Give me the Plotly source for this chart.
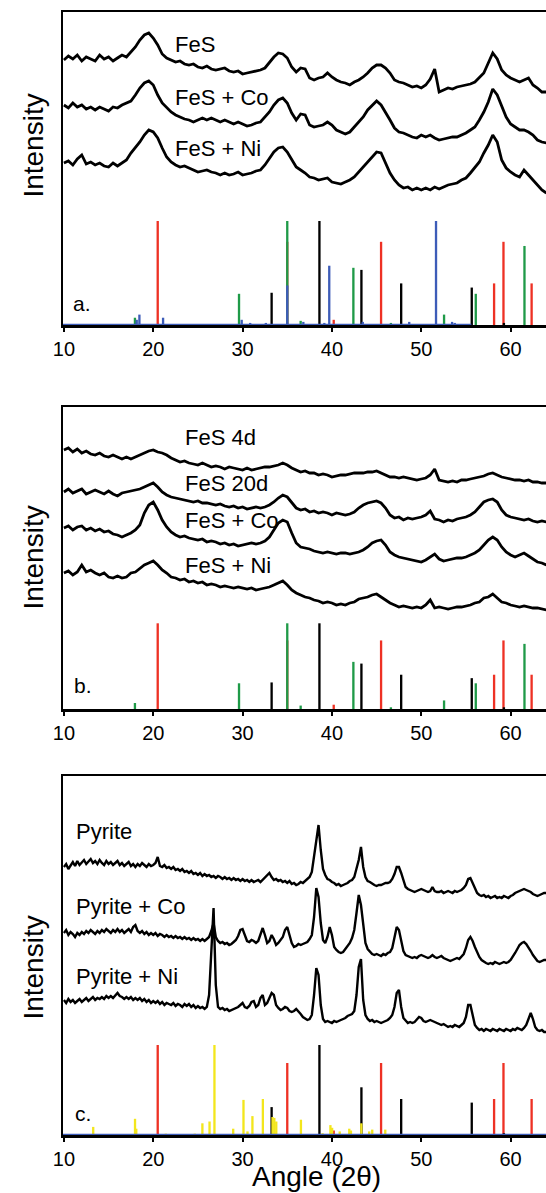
import plotly.graph_objects as go

# ---------------- data ----------------
SCAN_START = 10.0      # deg 2theta
STEP_AB = 0.5          # scan step used for panels a, b
STEP_C = 0.25          # scan step used for panel c

# panel a
FES_A = [265, 269, 266, 270, 264, 268, 266, 264, 270, 266,
         268, 264, 267, 270, 268, 273, 278, 285, 290, 292,
         287, 280, 271, 267, 265, 263, 264, 261, 260, 261,
         258, 257, 259, 256, 255, 256, 257, 254, 253, 254,
         251, 252, 253, 254, 255, 257, 263, 268, 272, 271,
         267, 258, 253, 257, 256, 247, 245, 247, 248, 252,
         248, 245, 243, 242, 240, 243, 245, 248, 252, 257,
         260, 260, 257, 252, 245, 243, 242, 240, 238, 239,
         237, 240, 246, 256, 233, 235, 237, 236, 238, 239,
         240, 241, 243, 247, 252, 262, 272, 266, 255, 250,
         247, 245, 243, 245, 247, 240, 237, 233, 233]
FES_CO_A = [220, 217, 222, 218, 220, 216, 218, 215, 218, 216,
            214, 218, 217, 220, 222, 224, 230, 237, 242, 244,
            240, 230, 222, 217, 213, 210, 208, 206, 205, 203,
            205, 207, 205, 207, 205, 203, 205, 203, 201, 203,
            201, 199, 200, 202, 203, 208, 213, 220, 225, 227,
            222, 212, 205, 211, 210, 200, 198, 199, 200, 203,
            200, 195, 193, 191, 193, 198, 203, 208, 215, 220,
            224, 220, 213, 205, 197, 193, 192, 190, 188, 187,
            190, 188, 190, 187, 185, 186, 187, 188, 188, 190,
            192, 195, 198, 205, 213, 223, 236, 230, 218, 208,
            201, 198, 195, 195, 193, 190, 185, 183, 182]
FES_NI_A = [162, 164, 160, 166, 170, 161, 163, 160, 162, 159,
            158, 162, 159, 162, 165, 172, 177, 183, 190, 195,
            193, 187, 177, 168, 163, 160, 158, 159, 157, 155,
            153, 154, 155, 153, 152, 150, 152, 150, 151, 153,
            150, 151, 152, 154, 155, 160, 167, 173, 177, 178,
            173, 165, 158, 155, 152, 148, 147, 145, 146, 147,
            143, 142, 141, 143, 145, 148, 153, 158, 163, 168,
            173, 172, 162, 152, 145, 140, 137, 138, 135, 137,
            135, 137, 135, 138, 136, 138, 140, 141, 142, 145,
            147, 152, 157, 163, 172, 180, 190, 183, 165, 157,
            153, 150, 148, 155, 150, 145, 140, 135, 132]

# panel b
FES_4D_B = [259, 261, 257, 260, 256, 258, 255, 254, 256, 253,
            252, 254, 252, 250, 252, 250, 252, 254, 256, 258,
            259, 257, 256, 254, 251, 249, 247, 248, 246, 245,
            244, 246, 244, 242, 243, 242, 240, 242, 241, 240,
            239, 241, 239, 240, 241, 242, 242, 243, 244, 246,
            244, 241, 239, 237, 238, 236, 236, 234, 235, 234,
            232, 233, 234, 234, 235, 236, 236, 236, 237, 237,
            238, 236, 234, 232, 232, 231, 232, 231, 230, 229,
            230, 231, 234, 240, 229, 228, 227, 228, 227, 229,
            229, 230, 231, 232, 233, 235, 236, 234, 232, 231,
            230, 229, 229, 228, 229, 227, 227, 226, 226]
FES_20D_B = [217, 220, 216, 218, 220, 215, 217, 219, 217, 215,
             218, 215, 213, 216, 217, 218, 219, 220, 222, 224,
             226, 222, 217, 214, 212, 211, 210, 209, 208, 207,
             208, 206, 206, 205, 204, 205, 203, 202, 203, 201,
             202, 200, 201, 202, 201, 202, 204, 207, 211, 214,
             212, 206, 201, 199, 200, 197, 198, 196, 197, 196,
             194, 196, 195, 194, 195, 197, 201, 204, 206, 207,
             208, 206, 201, 194, 191, 192, 189, 191, 190, 191,
             192, 194, 198, 190, 189, 187, 189, 188, 190, 191,
             192, 194, 197, 202, 207, 209, 210, 207, 199, 194,
             192, 191, 190, 189, 190, 188, 187, 188, 187]
FES_CO_B = [181, 183, 179, 182, 183, 179, 181, 178, 180, 177,
            178, 175, 174, 172, 174, 176, 179, 184, 196, 204,
            207, 199, 189, 182, 177, 174, 172, 173, 171, 170,
            169, 170, 167, 168, 167, 165, 166, 164, 165, 163,
            164, 165, 166, 165, 166, 168, 172, 179, 186, 189,
            187, 176, 166, 162, 161, 160, 158, 157, 156, 157,
            156, 155, 156, 156, 155, 156, 157, 159, 162, 166,
            168, 169, 164, 157, 154, 152, 151, 150, 149, 148,
            147, 149, 152, 155, 150, 148, 149, 150, 151, 151,
            152, 154, 156, 159, 164, 169, 172, 169, 162, 157,
            154, 152, 154, 156, 153, 150, 147, 146, 144]
FES_NI_B = [136, 138, 134, 137, 144, 137, 139, 136, 134, 136,
            132, 131, 133, 131, 132, 136, 137, 141, 144, 146,
            148, 144, 139, 136, 132, 131, 129, 130, 127, 128,
            126, 127, 124, 125, 124, 122, 123, 122, 121, 122,
            121, 120, 121, 119, 120, 121, 122, 124, 126, 128,
            124, 119, 116, 114, 112, 111, 109, 108, 106, 107,
            106, 104, 105, 104, 106, 107, 110, 111, 112, 114,
            115, 112, 109, 106, 104, 102, 103, 102, 101, 102,
            101, 104, 109, 101, 102, 101, 100, 101, 102, 102,
            103, 104, 106, 107, 111, 112, 115, 111, 107, 106,
            104, 103, 102, 103, 102, 101, 101, 100, 99]

# panel c
PYR_C = [268, 271, 266, 270, 273, 269, 274, 270, 272, 275, 271, 273,
         276, 272, 274, 271, 275, 272, 270, 274, 271, 273, 270, 272,
         274, 270, 272, 269, 271, 273, 269, 271, 268, 271, 269, 272,
         270, 268, 271, 269, 270, 272, 278, 269, 268, 270, 267, 268,
         266, 268, 265, 266, 264, 266, 263, 264, 262, 264, 261, 262,
         260, 262, 259, 261, 259, 260, 258, 259, 257, 259, 258, 256,
         258, 256, 257, 255, 257, 255, 256, 254, 256, 254, 255, 253,
         255, 253, 254, 255, 253, 255, 257, 260, 262, 258, 255, 256,
         254, 255, 253, 254, 252, 254, 251, 252, 250, 251, 253, 252,
         254, 255, 258, 263, 280, 295, 310, 285, 266, 260, 256, 255,
         253, 252, 250, 251, 249, 250, 251, 252, 254, 255, 258, 266,
         275, 288, 268, 258, 254, 253, 251, 250, 249, 250, 250, 251,
         252, 252, 253, 256, 261, 268, 268, 262, 254, 248, 246, 245,
         244, 243, 244, 245, 246, 245, 244, 243, 244, 248, 244, 243,
         243, 244, 242, 243, 244, 243, 242, 244, 243, 244, 245, 247,
         250, 256, 257, 252, 246, 242, 240, 239, 240, 238, 239, 237,
         238, 239, 237, 238, 237, 239, 238, 237, 239, 240, 242, 243,
         244, 245, 246, 245, 244, 243, 241, 240, 239, 240, 241, 242,
         242]
PYR_CO_C = [202, 205, 200, 203, 201, 198, 202, 200, 203, 201, 204, 202,
            205, 203, 201, 204, 202, 205, 203, 206, 204, 202, 205, 203,
            206, 203, 205, 202, 204, 206, 203, 208, 210, 204, 202, 204,
            201, 203, 200, 202, 200, 202, 199, 201, 200, 198, 200, 198,
            199, 197, 199, 197, 198, 196, 198, 196, 197, 195, 197, 195,
            196, 194, 196, 194, 196, 198, 204, 212, 198, 194, 192, 193,
            191, 192, 190, 191, 193, 195, 199, 205, 206, 200, 194, 193,
            195, 194, 192, 194, 200, 207, 200, 192, 194, 200, 196, 190,
            192, 195, 198, 205, 208, 200, 192, 188, 189, 191, 190, 191,
            192, 193, 196, 200, 218, 247, 238, 212, 195, 192, 198, 208,
            200, 188, 185, 183, 182, 183, 186, 189, 192, 197, 205, 222,
            240, 230, 208, 192, 186, 183, 181, 180, 181, 180, 179, 181,
            180, 182, 183, 187, 196, 208, 205, 195, 184, 180, 179, 178,
            177, 178, 177, 179, 180, 179, 178, 177, 178, 180, 178, 177,
            178, 179, 177, 176, 175, 174, 175, 176, 177, 176, 178, 181,
            187, 195, 198, 194, 188, 182, 178, 175, 173, 172, 171, 172,
            171, 173, 172, 171, 172, 173, 172, 173, 175, 178, 182, 186,
            190, 192, 193, 191, 188, 184, 180, 177, 174, 173, 174, 175,
            175]
PYR_NI_C = [135, 132, 136, 133, 135, 132, 134, 136, 133, 135, 137, 134,
            136, 138, 135, 137, 136, 138, 136, 139, 137, 139, 137, 140,
            142, 139, 138, 136, 138, 136, 138, 135, 137, 135, 137, 134,
            136, 133, 135, 132, 134, 132, 134, 131, 133, 130, 132, 131,
            130, 132, 129, 131, 130, 128, 131, 129, 131, 128, 130, 127,
            129, 127, 128, 126, 128, 140, 185, 227, 150, 128, 126, 127,
            125, 126, 124, 125, 126, 127, 128, 130, 132, 128, 127, 129,
            133, 134, 128, 130, 137, 140, 130, 132, 138, 142, 140, 130,
            127, 125, 126, 128, 127, 124, 123, 124, 126, 124, 121, 118,
            116, 115, 116, 120, 140, 167, 160, 130, 116, 113, 114, 113,
            112, 114, 113, 114, 115, 116, 117, 119, 120, 121, 124, 140,
            168, 176, 135, 120, 116, 114, 115, 113, 114, 113, 112, 113,
            114, 115, 117, 120, 128, 142, 145, 128, 117, 114, 112, 113,
            112, 113, 115, 118, 117, 114, 113, 114, 115, 114, 113, 112,
            111, 110, 111, 109, 108, 109, 108, 110, 109, 108, 110, 112,
            118, 130, 130, 118, 110, 107, 105, 106, 104, 106, 105, 104,
            106, 105, 104, 106, 105, 104, 106, 105, 104, 106, 105, 107,
            106, 105, 107, 110, 116, 122, 116, 108, 105, 104, 105, 103,
            103]

# reference stick patterns (position deg 2theta, relative intensity %)
RED_POS = [20.5, 35.0, 40.2, 45.5, 58.15, 59.2, 62.35]
RED_REL = [100, 80, 5, 80, 40, 80, 40]
GREEN_POS = [17.95, 29.6, 35.0, 36.5, 42.4, 46.6, 52.55, 56.1, 61.55]
GREEN_REL = [7, 30, 100, 4, 55, 2, 10, 30, 76]
BLACK_POS = [33.25, 38.6, 43.3, 47.75, 55.65, 59.25]
BLACK_REL = [31, 100, 53, 40, 36, 2]
BLUE_POS = [18.15, 18.45, 21.1, 29.9, 30.85, 32.6, 35.0, 36.8, 39.15, 39.7,
            43.45, 48.65, 51.65, 53.45, 53.75]
BLUE_REL = [5, 10, 7, 5, 2, 2, 38, 3, 2, 57, 3, 3, 100, 3, 2]
YELLOW_POS = [13.28, 17.96, 18.1, 21.4, 24.65, 25.5, 26.3, 26.85, 28.95, 30.1,
              30.55, 31.1, 32.27, 33.35, 33.55, 33.77, 36.53, 38.95, 39.83, 40.02,
              40.87, 41.94, 42.13, 43.29, 44.17, 44.51, 45.97]
YELLOW_REL = [9, 18, 7, 1.5, 1.5, 13, 15, 100, 7, 39,
              4, 21, 40, 20, 19, 15, 17, 2, 11, 8,
              4, 7, 5, 13, 4, 6, 6]
BLUE_BASELINE_A = [9.9, 55.6]     # extent of zero-intensity blue pattern, panel a
BLUE_BASELINE_C = [9.9, 63.96]

X_TICKS = [10, 20, 30, 40, 50, 60]

# ---------------- styling / layout ----------------
W, H = 546, 1193
FONT = "Liberation Sans, Arial, Helvetica, sans-serif"
RED, GREEN, BLACK, BLUE, YELLOW = "#ee3124", "#1f9a48", "#000000", "#3d5cb8", "#f3e61c"
PLOT_LEFT = 54
X_RANGE = [9.9, 63.96]
PANELS = [  # (top px, axis px, stick max px)
    (12, 325, 104.0),
    (407, 709, 85.7),
    (776, 1135, 90.0),
]


def angles(vals, step):
    return [SCAN_START + i * step for i in range(len(vals))]


fig = go.Figure()
layout = dict(width=W, height=H, margin=dict(l=0, r=0, t=0, b=0),
              paper_bgcolor="white", plot_bgcolor="white",
              showlegend=False, barmode="overlay",
              font=dict(family=FONT, color="black"))

for i, (top, bot, smax) in enumerate(PANELS):
    xn = "xaxis" if i == 0 else f"xaxis{i + 1}"
    yc_num = 2 * i + 1
    ys_num = 2 * i + 2
    yc = "yaxis" if yc_num == 1 else f"yaxis{yc_num}"
    ys = f"yaxis{ys_num}"
    xref = "x" if i == 0 else f"x{i + 1}"
    ycref = "y" if yc_num == 1 else f"y{yc_num}"
    ysref = f"y{ys_num}"
    dom = [1 - bot / H, 1 - top / H]
    hpx = bot - top
    layout[xn] = dict(domain=[PLOT_LEFT / W, 1], range=X_RANGE, anchor=ycref,
                      tickvals=X_TICKS, ticks="outside", ticklen=4, tickwidth=2,
                      tickcolor="black", showline=True, linewidth=2.5,
                      linecolor="black", mirror=True, showgrid=False,
                      zeroline=False, tickfont=dict(size=20, family=FONT))
    layout[yc] = dict(domain=dom, range=[0, hpx], anchor=xref, showline=True,
                      linewidth=2.5, linecolor="black", showticklabels=False,
                      ticks="", showgrid=False, zeroline=False)
    layout[ys] = dict(overlaying=ycref, anchor=xref, range=[0, hpx * 100 / smax],
                      visible=False, showgrid=False, zeroline=False)

    def stick(pos, rel, color):
        fig.add_trace(go.Bar(x=pos, y=rel, width=0.26, marker_color=color,
                             marker_line_width=0, xaxis=xref, yaxis=ysref))

    def curve(vals, step, w):
        fig.add_trace(go.Scatter(x=angles(vals, step), y=vals, mode="lines",
                                 line=dict(color="black", width=w),
                                 xaxis=xref, yaxis=ycref))

    def base(rng):
        fig.add_trace(go.Scatter(x=rng, y=[0, 0], mode="lines",
                                 line=dict(color=BLUE, width=2.5),
                                 xaxis=xref, yaxis=ysref))

    if i == 0:
        for v in (FES_A, FES_CO_A, FES_NI_A):
            curve(v, STEP_AB, 2.8)
        stick(RED_POS, RED_REL, RED)
        stick(GREEN_POS, GREEN_REL, GREEN)
        stick(BLACK_POS, BLACK_REL, BLACK)
        stick(BLUE_POS, BLUE_REL, BLUE)
        base(BLUE_BASELINE_A)
    elif i == 1:
        for v in (FES_4D_B, FES_20D_B, FES_CO_B, FES_NI_B):
            curve(v, STEP_AB, 2.8)
        stick(RED_POS, RED_REL, RED)
        stick(GREEN_POS, GREEN_REL, GREEN)
        stick(BLACK_POS, BLACK_REL, BLACK)
    else:
        for v in (PYR_C, PYR_CO_C, PYR_NI_C):
            curve(v, STEP_C, 2.4)
        stick(RED_POS, RED_REL, RED)
        stick(BLACK_POS, BLACK_REL, BLACK)
        stick(YELLOW_POS, YELLOW_REL, YELLOW)
        base(BLUE_BASELINE_C)

# ---------------- text ----------------
ann = []


def label(text, x, y, panel, size=22):
    ycref = "y" if panel == 0 else f"y{2 * panel + 1}"
    xref = "x" if panel == 0 else f"x{panel + 1}"
    ann.append(dict(text=text, x=x, y=y, xref=xref, yref=ycref, xanchor="left",
                    yanchor="middle", showarrow=False,
                    font=dict(size=size, family=FONT, color="black")))


label("FeS", 22.2, 281, 0)
label("FeS + Co", 22.2, 228, 0)
label("FeS + Ni", 22.2, 177, 0)
label("a.", 10.8, 22, 0, 21)
label("FeS 4d", 23.3, 272, 1)
label("FeS 20d", 23.3, 226, 1)
label("FeS + Co", 23.3, 189, 1)
label("FeS + Ni", 23.3, 144, 1)
label("b.", 10.9, 24, 1, 21)
label("Pyrite", 11.1, 304, 2)
label("Pyrite + Co", 11.1, 229, 2)
label("Pyrite + Ni", 11.1, 159, 2)
label("c.", 11.0, 22, 2, 21)

for ypx in (146, 558, 968):
    ann.append(dict(text="Intensity", x=23 / W, y=1 - ypx / H, xref="paper",
                    yref="paper", textangle=-90, xanchor="center",
                    yanchor="middle", showarrow=False,
                    font=dict(size=28, family=FONT, color="black")))
ann.append(dict(text="Angle (2θ)", x=312 / W, y=0, xref="paper",
                yref="paper", xanchor="center", yanchor="bottom", borderpad=0,
                showarrow=False, font=dict(size=28, family=FONT, color="black")))

layout["annotations"] = ann
fig.update_layout(**layout)
# remove the browser's default 8px body margin so the figure sits at the page origin
fig.write_html("out.html", config={"displayModeBar": False, "staticPlot": True},
               post_script="document.body.style.margin='0px';document.body.style.overflow='hidden';")
